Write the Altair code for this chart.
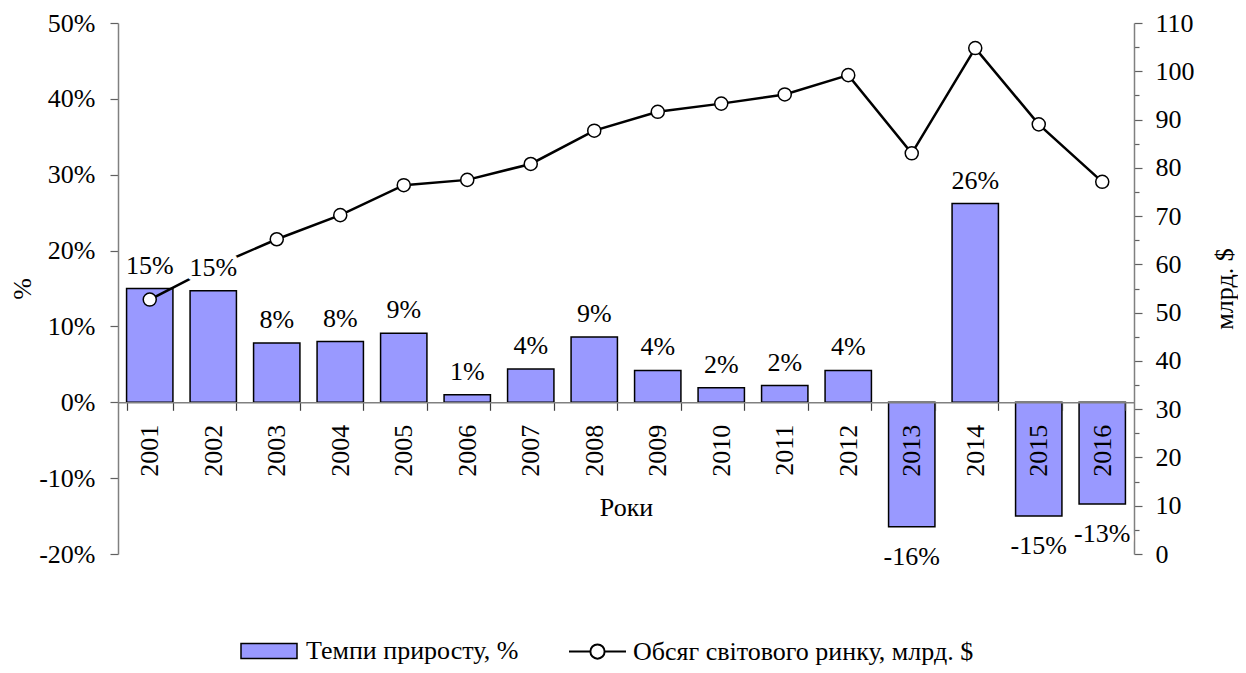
import altair as alt
import pandas as pd

years = ["2001", "2002", "2003", "2004", "2005", "2006", "2007", "2008",
         "2009", "2010", "2011", "2012", "2013", "2014", "2015", "2016"]
growth = [15.0, 14.7, 7.8, 8.0, 9.1, 1.0, 4.4, 8.6, 4.2, 1.9, 2.2, 4.2,
          -16.4, 26.2, -15.0, -13.4]
volume = [52.7, 59.5, 65.2, 70.2, 76.4, 77.5, 80.8, 87.7, 91.6, 93.3, 95.2,
          99.2, 83.0, 104.8, 89.0, 77.1]
bar_name = "Темпи приросту, %"
line_name = "Обсяг світового ринку, млрд. $"
left_ticks = [-20, -10, 0, 10, 20, 30, 40, 50]
right_ticks = [0, 5, 10, 15, 20, 25, 30, 35, 40, 45, 50, 55, 60, 65, 70, 75,
               80, 85, 90, 95, 100, 105, 110]

df = pd.DataFrame({
    "year": years,
    "growth": growth,
    "volume": volume,
    "label": [f"{round(g)}%" for g in growth],
    "s1": [bar_name] * len(years),
    "s2": [line_name] * len(years),
})

FONT = "Liberation Serif"
FS = 26
W, H = 1016, 531
zero_off = H * 20 / 70

base = alt.Chart(df)

x_axis = alt.Axis(
    orient="bottom", offset=-zero_off, labelAngle=270, tickBand="extent",
    tickSize=8, labelPadding=14, title="Роки", titlePadding=18,
    labelFont=FONT, labelFontSize=FS, labelColor="black",
    titleFont=FONT, titleFontSize=FS, titleFontWeight="normal", titleColor="black",
    domainColor="#808080", domainWidth=1.5, tickColor="#404040", tickWidth=1.2,
    zindex=1,
)
x_enc = alt.X("year:N", sort=years,
              scale=alt.Scale(paddingInner=0.27, paddingOuter=0.135),
              axis=x_axis)
x_plain = alt.X("year:N", sort=years)

ys_left = alt.Scale(domain=[-20, 50], nice=False, zero=False)
ys_right = alt.Scale(domain=[0, 110], nice=False, zero=False)

bars = base.mark_bar(stroke="black", strokeWidth=1.5).encode(
    x=x_enc,
    y=alt.Y("growth:Q", scale=ys_left,
            axis=alt.Axis(orient="left", values=left_ticks, grid=False,
                          labelExpr="datum.value + '%'", title="%",
                          tickSize=8, labelPadding=15, titlePadding=3,
                          labelFont=FONT, labelFontSize=FS, labelColor="black",
                          titleFont=FONT, titleFontSize=FS,
                          titleFontWeight="normal", titleColor="black",
                          domainColor="#808080", domainWidth=1.5,
                          tickColor="#606060", tickWidth=1.2)),
    color=alt.Color("s1:N", scale=alt.Scale(range=["#9999FF"]),
                    legend=alt.Legend(
                        title=None, orient="none", legendX=122, legendY=599,
                        symbolType="M-1,-0.27H1V0.27H-1Z", symbolSize=3136,
                        symbolStrokeColor="black", symbolStrokeWidth=1.5,
                        labelFont=FONT, labelFontSize=FS, labelColor="black",
                        labelLimit=600, labelOffset=8)),
)

line = base.mark_line(color="black", strokeWidth=2.5).encode(
    x=x_plain,
    y=alt.Y("volume:Q", scale=ys_right,
            axis=alt.Axis(orient="right", values=right_ticks, grid=False,
                          labelExpr="datum.value % 10 == 0 ? datum.value : ''",
                          tickSize={"condition": {"test": "datum.value % 10 == 0", "value": 8},
                                    "value": 5},
                          title="млрд. $", titleAngle=270, titlePadding=43,
                          labelPadding=13,
                          labelFont=FONT, labelFontSize=FS, labelColor="black",
                          titleFont=FONT, titleFontSize=FS,
                          titleFontWeight="normal", titleColor="black",
                          domainColor="#808080", domainWidth=1.5,
                          tickColor="#606060", tickWidth=1.2)),
)

points = base.mark_point(filled=True, size=170, stroke="black",
                         strokeWidth=1.5, opacity=1).encode(
    x=x_plain,
    y=alt.Y("volume:Q", scale=ys_right, axis=None),
    fill=alt.Fill("s2:N", scale=alt.Scale(range=["white"]),
                  legend=alt.Legend(
                      title=None, orient="none", legendX=450, legendY=599,
                      symbolType="M-1,0H-0.25M0.25,0H1M-0.25,0A0.25,0.25,0,1,1,0.25,0A0.25,0.25,0,1,1,-0.25,0Z",
                      symbolSize=3249, symbolStrokeColor="black",
                      symbolStrokeWidth=2, symbolFillColor="white",
                      labelFont=FONT, labelFontSize=FS, labelColor="black",
                      labelLimit=600, labelOffset=6)),
)


def labels(cond, dy, halo):
    kw = dict(font=FONT, fontSize=FS, baseline="middle", align="center", dy=dy)
    if halo:
        mk = base.mark_text(color="white", stroke="white", strokeWidth=8,
                            strokeJoin="round", **kw)
    else:
        mk = base.mark_text(color="black", **kw)
    return mk.transform_filter(cond).encode(
        x=x_plain,
        y=alt.Y("growth:Q", scale=ys_left, axis=None),
        text="label:N",
    )


chart = alt.layer(
    bars, line, points,
    labels("datum.growth >= 0", -23, True),
    labels("datum.growth < 0", 30, True),
    labels("datum.growth >= 0", -23, False),
    labels("datum.growth < 0", 30, False),
).resolve_scale(y="independent").properties(
    width=W, height=H,
    autosize=alt.AutoSizeParams(type="none"),
    padding={"left": 110, "top": 15, "right": 104, "bottom": 111},
).configure_view(stroke=None)

chart.save("out.html", embed_options={"renderer": "svg", "actions": False})
